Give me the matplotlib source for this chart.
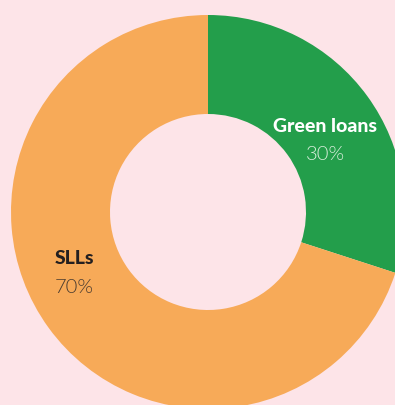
import matplotlib.pyplot as plt

labels = ['Green loans', 'SLLs']
shares = [30, 70]
colors = ['#239e4b', '#f7aa58']

bg = '#fde4e8'

fig = plt.figure(figsize=(3.95, 4.06), dpi=100)
fig.patch.set_facecolor(bg)
ax = fig.add_axes([0, 0, 1, 1])
ax.set_facecolor(bg)

# donut, centre sits a bit right of middle and runs off the right/bottom edge
ax.pie(shares, colors=colors, startangle=90, counterclock=False,
       center=(208, 193), radius=197, frame=True,
       wedgeprops=dict(width=99, linewidth=0))
ax.set_xlim(0, 395)
ax.set_ylim(0, 406)
ax.axis('off')

font = 'Lato'
size = 14
ax.text(325, 406 - 126, labels[0], ha='center', va='center', color='white',
        fontsize=size, fontweight=900, family=font)
ax.text(325, 406 - 155, '{}%'.format(shares[0]), ha='center', va='center',
        color='#d8eedb', fontsize=size + 0.5, fontweight=300, family=font)
ax.text(74, 406 - 258, labels[1], ha='center', va='center', color='#231f20',
        fontsize=size, fontweight=900, family=font)
ax.text(74, 406 - 288, '{}%'.format(shares[1]), ha='center', va='center',
        color='#4a3c30', fontsize=size + 0.5, fontweight=300, family=font)

fig.savefig('out.png', dpi=100, facecolor=bg)
